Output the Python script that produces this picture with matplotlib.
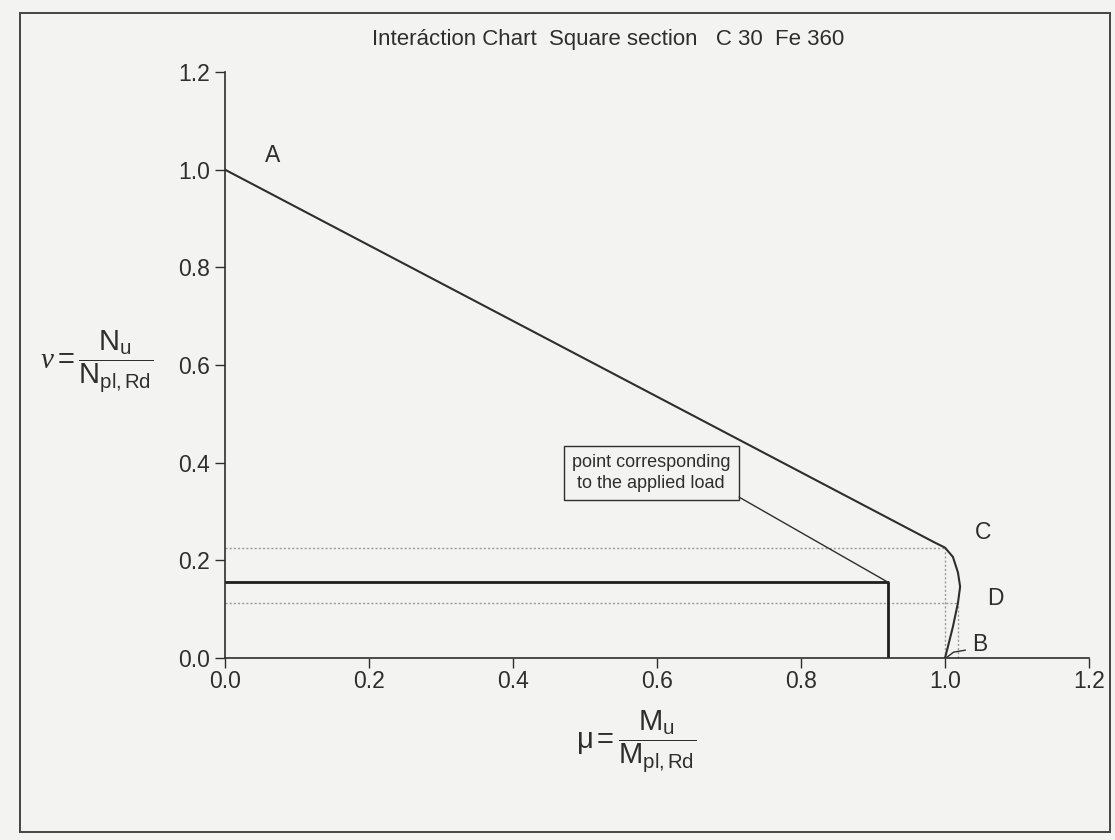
import matplotlib
matplotlib.use("Agg")
import matplotlib.pyplot as plt
from matplotlib.patches import Rectangle

# ---- data ----
mu_curve = [0.0, 0.985, 1.000, 1.011, 1.018, 1.021, 1.018, 1.011, 1.004, 1.000]
nu_curve = [1.0, 0.237, 0.226, 0.207, 0.175, 0.146, 0.113, 0.064, 0.023, 0.0]
point_labels = ["A", "C", "D", "B"]
label_mu = [0.056, 1.042, 1.058, 1.037]
label_nu = [1.030, 0.258, 0.121, 0.027]
mu_C, nu_C = 1.000, 0.225
mu_D, nu_D = 1.018, 0.113
mu_load, nu_load = 0.921, 0.155
ticks = [0.0, 0.2, 0.4, 0.6, 0.8, 1.0, 1.2]
tick_labels = ["0.0", "0.2", "0.4", "0.6", "0.8", "1.0", "1.2"]
title = "Interáction Chart  Square section   C 30  Fe 360"
note = "point corresponding\nto the applied load"

plt.rcParams['font.family'] = ['Liberation Sans', 'DejaVu Sans']
plt.rcParams['mathtext.fontset'] = 'custom'
plt.rcParams['mathtext.rm'] = 'Liberation Sans'
plt.rcParams['mathtext.it'] = 'Liberation Serif:italic'

W, H = 1115, 840
ink = '#2e2e2e'
fig = plt.figure(figsize=(W / 100, H / 100), dpi=100, facecolor='#f3f3f1')
ax = fig.add_axes([225 / W, 1 - 658 / H, (1089 - 225) / W, (658 - 72) / H])
ax.set_facecolor('#f3f3f1')

# outer frame of the scanned page
fig.patches.append(Rectangle((20 / W, 1 - 832 / H), (1110 - 20) / W, (832 - 13) / H,
                             transform=fig.transFigure, fill=False,
                             edgecolor='#444444', linewidth=1.4))

# dotted reference lines
dot = dict(color='#9a9a9a', linestyle=(0, (1.5, 1.5)), linewidth=1.0)
ax.plot([0, mu_C], [nu_C, nu_C], **dot)
ax.plot([mu_C, mu_C], [0, nu_C], **dot)
ax.plot([0, mu_D], [nu_D, nu_D], **dot)
ax.plot([mu_D, mu_D], [0, nu_D], **dot)

# interaction curve
ax.plot(mu_curve, nu_curve, color=ink, linewidth=1.5, solid_joinstyle='round')

# applied load lines
ax.plot([0, mu_load, mu_load], [nu_load, nu_load, 0], color='#1e1e1e', linewidth=2.0)

# point labels
for lab, x, y in zip(point_labels, label_mu, label_nu):
    ax.text(x, y, lab, fontsize=16.5, color=ink, ha='left', va='center')
ax.plot([1.028, 1.012, 1.003], [0.016, 0.012, 0.002], color=ink, linewidth=1.0)

# annotation
ax.annotate(note, xy=(mu_load, nu_load), xytext=(0.592, 0.379),
            textcoords='data', ha='center', va='center', fontsize=13, color=ink,
            linespacing=1.35,
            bbox=dict(boxstyle='square,pad=0.45', facecolor='none', edgecolor=ink, linewidth=1.0),
            arrowprops=dict(arrowstyle='-', color=ink, linewidth=1.0,
                            shrinkA=0, shrinkB=0, relpos=(1.0, 0.0)))

ax.set_xlim(0, 1.2)
ax.set_ylim(0, 1.2)
ax.set_xticks(ticks)
ax.set_xticklabels(tick_labels)
ax.set_yticks(ticks)
ax.set_yticklabels(tick_labels)
for s in ['top', 'right']:
    ax.spines[s].set_visible(False)
for s in ['left', 'bottom']:
    ax.spines[s].set_color(ink)
    ax.spines[s].set_linewidth(1.2)
ax.tick_params(direction='out', length=7, width=1.0, colors=ink, labelsize=16.5,
               labelcolor=ink)
ax.tick_params(axis='x', pad=2)
ax.tick_params(axis='y', pad=4)

fig.text(608 / W, 1 - 40 / H, title, ha='center', va='center', fontsize=16, color=ink)
fig.text(97 / W, 1 - 362 / H, r'$\mathit{\nu} = \dfrac{\mathrm{N_u}}{\mathrm{N_{pl,Rd}}}$',
         ha='center', va='center', fontsize=21, color=ink)
fig.text(636 / W, 1 - 742 / H, r'$\mathrm{\mu} = \dfrac{\mathrm{M_u}}{\mathrm{M_{pl,Rd}}}$',
         ha='center', va='center', fontsize=21, color=ink)

fig.savefig('out.png', dpi=100, facecolor=fig.get_facecolor())
